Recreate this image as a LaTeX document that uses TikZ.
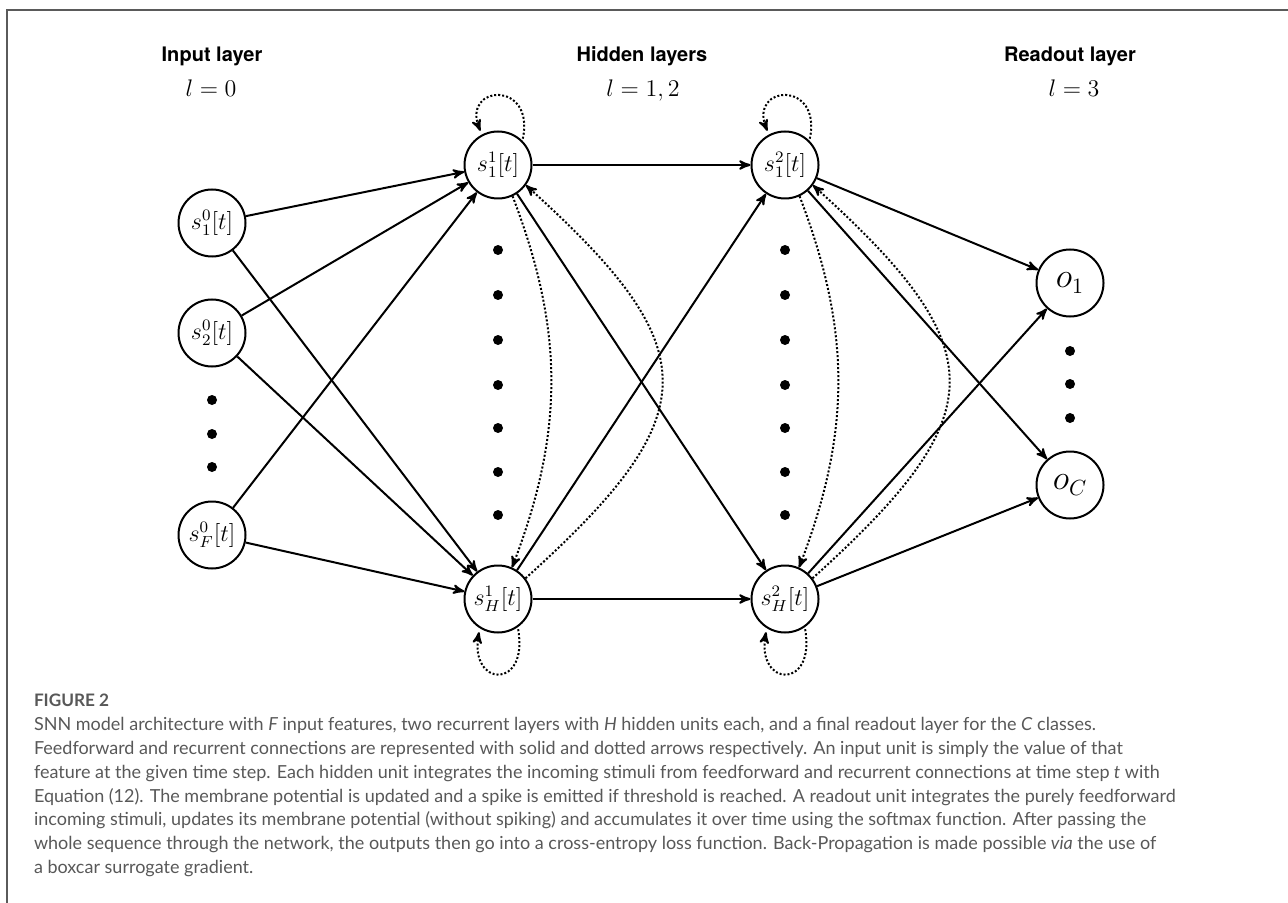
\documentclass[tikz,border=0pt]{standalone}
\usepackage{amsmath}
\usepackage{fontspec}
\usepackage{tikz}
\usetikzlibrary{positioning, calc, arrows}
\newfontfamily\headfont{TeX Gyre Heros}
\newfontfamily\capfont{Lato}
\definecolor{capgray}{RGB}{88,88,88}
\definecolor{boxgray}{RGB}{90,90,90}

\begin{document}
\begin{tikzpicture}[x=.5pt, y=.5pt, ->, >=stealth', line width=1pt,
  unit/.style={draw, circle, minimum size=33.5pt, inner sep=0pt, font=\large},
  head/.style={font=\headfont\bfseries, anchor=base},
  lnum/.style={font=\large, anchor=base},
  rec/.style={densely dotted},
  captext/.style={font=\capfont\fontsize{9}{11.9}\selectfont, text=capgray, inner sep=0pt},
  ]
  \useasboundingbox (0,0) rectangle (1288,-903);
  \draw[-, boxgray, line width=.75pt] (7,-903) -- (7,-10) -- (1288,-10);

  % layer titles
  \node[head] (inhead) at (212,-62) {Input layer};
  \node[lnum] (inl) at (211,-97) {$l=0$};
  \node[head] (hidhead) at (642,-62) {Hidden layers};
  \node[lnum] (hidl) at (643,-97) {$l=1,2$};
  \node[head] (outhead) at (1070,-62) {Readout layer};
  \node[lnum] (outl) at (1074,-97) {$l=3$};

  % units
  \node[unit] (in1) at (212,-223) {$s_1^0[t]$};
  \node[unit] (in2) at (212,-333) {$s_2^0[t]$};
  \node[unit] (inF) at (212,-535) {$s_F^0[t]$};
  \node[unit] (h11) at (498,-165) {$s_1^1[t]$};
  \node[unit] (hH1) at (498,-599) {$s_H^1[t]$};
  \node[unit] (h12) at (785,-165) {$s_1^2[t]$};
  \node[unit] (hH2) at (785,-599) {$s_H^2[t]$};
  \node[unit, font=\fontsize{16}{19}\selectfont] (o1) at (1070,-283) {$o_1$};
  \node[unit, font=\fontsize{16}{19}\selectfont] (oC) at (1070,-485) {$o_C$};

  % ellipsis dots
  \foreach \y in {400,434,467} \fill (212,-\y) circle (5);
  \foreach \y in {351,384,418} \fill (1070,-\y) circle (5);
  \foreach \y in {250,295,340,385,428,472,515} {
    \fill (498,-\y) circle (5);
    \fill (785,-\y) circle (5);
  }

  % feedforward
  \path
    (in1) edge (h11)
    (in1) edge (hH1)
    (in2) edge (h11)
    (in2) edge (hH1)
    (inF) edge (h11)
    (inF) edge (hH1)
    (h11) edge (h12)
    (h11) edge (hH2)
    (hH1) edge (h12)
    (hH1) edge (hH2)
    (h12) edge (o1)
    (h12) edge (oC)
    (hH2) edge (o1)
    (hH2) edge (oC);

  % recurrent
  \path[rec]
    (h11.-65) edge[out=-69, in=69] (hH1.66)
    (hH1.37) edge[out=42, in=-42, looseness=1.6] (h11.-36)
    (h12.-65) edge[out=-69, in=69] (hH2.66)
    (hH2.37) edge[out=42, in=-42, looseness=1.6] (h12.-36);
  \draw[rec, shorten <=1pt, shorten >=2pt] (h11.45) .. controls +(78:62) and +(112:54) .. (h11.118);
  \draw[rec, shorten <=1pt, shorten >=2pt] (h12.45) .. controls +(78:62) and +(112:54) .. (h12.118);
  \draw[rec, shorten <=1pt, shorten >=2pt] (hH1.-55) .. controls +(-80:64) and +(-100:60) .. (hH1.-122);
  \draw[rec, shorten <=1pt, shorten >=2pt] (hH2.-55) .. controls +(-80:64) and +(-100:60) .. (hH2.-122);

  % caption
  \node[captext, font=\capfont\bfseries\fontsize{8.6}{10}\selectfont, anchor=base west] (fig) at (33,-706) {FIGURE 2};
  \node[captext, align=left, anchor=base west] (cap) at (33,-873.5) {SNN model architecture with \textit{F} input features, two recurrent layers with \textit{H} hidden units each, and a final readout layer for the \textit{C} classes.\\
Feedforward and recurrent connections are represented with solid and dotted arrows respectively. An input unit is simply the value of that\\
feature at the given time step. Each hidden unit integrates the incoming stimuli from feedforward and recurrent connections at time step \textit{t} with\\
Equation (12). The membrane potential is updated and a spike is emitted if threshold is reached. A readout unit integrates the purely feedforward\\
incoming stimuli, updates its membrane potential (without spiking) and accumulates it over time using the softmax function. After passing the\\
whole sequence through the network, the outputs then go into a cross-entropy loss function. Back-Propagation is made possible \textit{via} the use of\\
a boxcar surrogate gradient.};
\end{tikzpicture}
\end{document}
